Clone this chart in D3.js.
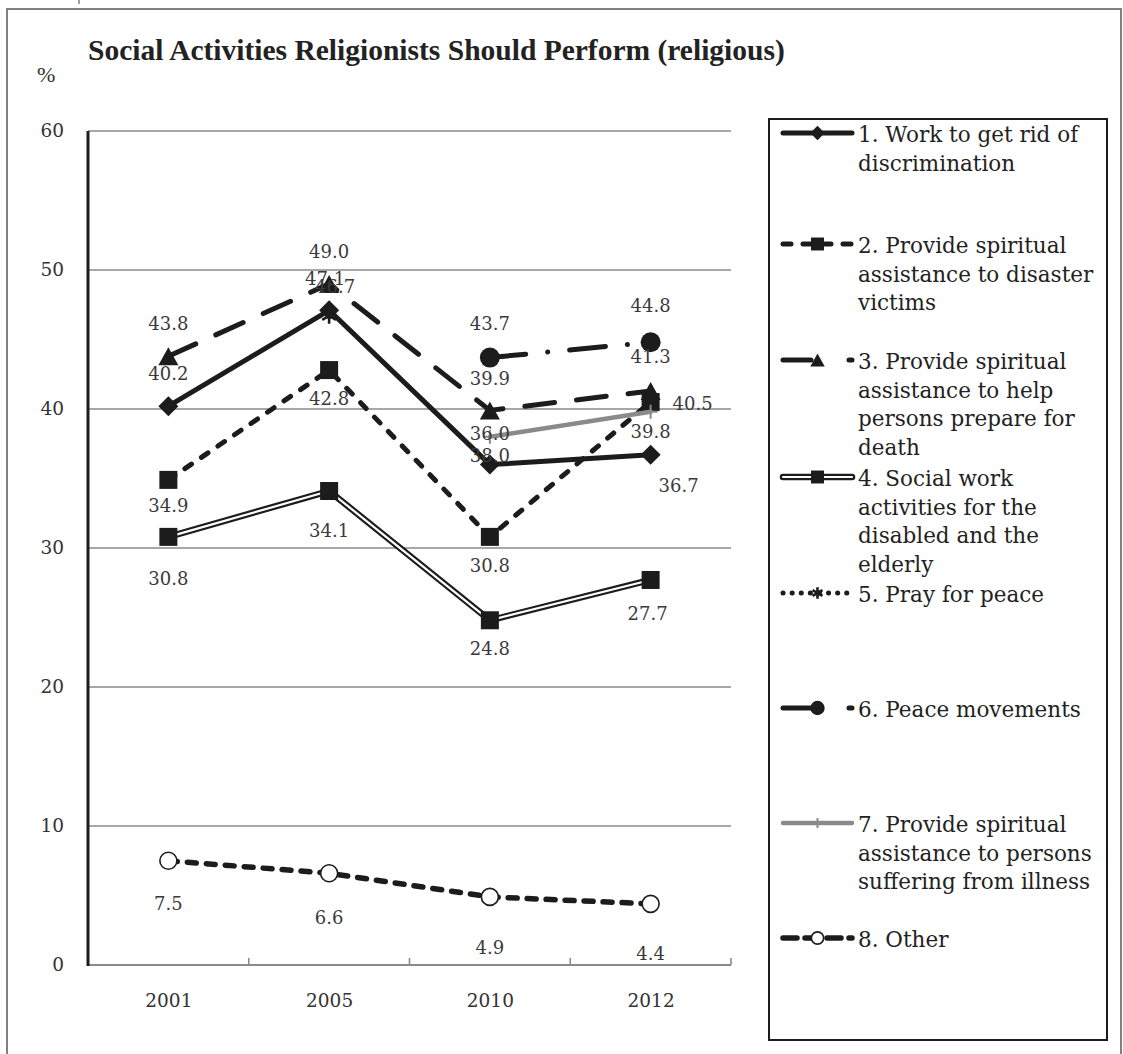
<!DOCTYPE html>
<html><head><meta charset="utf-8">
<script src="https://cdn.jsdelivr.net/npm/d3@7"></script>
<style>body{margin:0;background:#fff}</style>
</head><body>
<svg id="c" width="1123" height="1054"></svg>
<script>
// ---------------- data ----------------
const title = "Social Activities Religionists Should Perform (religious)";
const yUnit = "%";
const years = ["2001", "2005", "2010", "2012"];
const yTicks = [0, 10, 20, 30, 40, 50, 60];
const s1 = [40.2, 47.1, 36.0, 36.7];   // Work to get rid of discrimination
const s2 = [34.9, 42.8, 30.8, 40.5];   // disaster victims
const s3 = [43.8, 49.0, 39.9, 41.3];   // prepare for death
const s4 = [30.8, 34.1, 24.8, 27.7];   // disabled and elderly
const s5 = [null, 46.7, null, null];   // pray for peace
const s6 = [null, null, 43.7, 44.8];   // peace movements
const s7 = [null, null, 38.0, 39.8];   // suffering from illness
const s8 = [7.5, 6.6, 4.9, 4.4];       // other
const legendLabels = [
  ["1. Work to get rid of", "discrimination"],
  ["2. Provide spiritual", "assistance to disaster", "victims"],
  ["3. Provide spiritual", "assistance to help", "persons prepare for", "death"],
  ["4. Social work", "activities for the", "disabled and the", "elderly"],
  ["5. Pray for peace"],
  ["6. Peace movements"],
  ["7. Provide spiritual", "assistance to persons", "suffering from illness"],
  ["8. Other"]
];
const seriesValues = [s1, s2, s3, s4, s5, s6, s7, s8];

// ---------------- styles / layout ----------------
const INK = "#1c1c1c";
const GREY = "#8a8a8a";
const styles = [
  {stroke: INK, width: 5, dash: null, marker: "diamond", legendDash: null},
  {stroke: INK, width: 5, dash: "8,12", marker: "square", legendDash: "8,12"},
  {stroke: INK, width: 5, dash: "30,22", marker: "triangle", legendDash: "28,38"},
  {stroke: INK, width: 6.5, dash: null, marker: "square", double: true, legendDash: null},
  {stroke: INK, width: 5, dash: "0.1,9", marker: "asterisk", legendDash: "0.1,9"},
  {stroke: INK, width: 5, dash: "36,22,0.1,22", marker: "circle", legendDash: "28,38"},
  {stroke: GREY, width: 4.5, dash: null, marker: "plus", legendDash: null},
  {stroke: INK, width: 5.5, dash: "9,10", marker: "opencircle", legendDash: "14,8"}
];
// label offsets [dx, dy] relative to each point (layout only)
const labelOffsets = [
  [[0, -26], [-4, -25], [0, -25], [28, 37]],
  [[0, 32], [0, 35], [0, 35], [42, 8]],
  [[0, -26], [0, -26], [0, -25], [0, -28]],
  [[0, 48], [0, 46], [0, 35], [-3, 40]],
  [null, [6, -23], null, null],
  [null, null, [0, -28], [0, -30]],
  [null, null, [0, 25], [0, 26]],
  [[0, 49], [0, 51], [0, 57], [0, 56]]
];
const legendBaselines = [142, 253, 369, 486, 602, 717, 832, 947];

const svg = d3.select("#c");
const plot = {left: 88, right: 731, top: 131, bottom: 965};
const x = d3.scalePoint().domain(years).range([plot.left, plot.right]).padding(0.5);
const xb = d3.scaleBand().domain(years).range([plot.left, plot.right]);
const y = d3.scaleLinear().domain([0, 60]).range([plot.bottom, plot.top]);
const SERIF = "'DejaVu Serif', serif";

// outer frame
svg.append("path").attr("d", "M7,1054 V9 H1121 V1054")
  .attr("fill", "none").attr("stroke", "#808080").attr("stroke-width", 2);
svg.append("line").attr("x1", 79).attr("x2", 79).attr("y1", 0).attr("y2", 4)
  .attr("stroke", "#808080").attr("stroke-width", 1.5);

// title
svg.append("text").attr("x", 88).attr("y", 60).text(title)
  .attr("font-family", "'Liberation Serif', 'Times New Roman', serif")
  .attr("font-weight", "bold").attr("font-size", 29.5).attr("fill", "#222");
svg.append("text").attr("x", 37).attr("y", 82).text(yUnit)
  .attr("font-family", "'Liberation Serif', serif").attr("font-size", 22).attr("fill", "#333");

// gridlines
svg.append("g").selectAll("line").data(yTicks.filter(t => t > 0)).join("line")
  .attr("x1", plot.left).attr("x2", plot.right)
  .attr("y1", d => y(d)).attr("y2", d => y(d))
  .attr("stroke", GREY).attr("stroke-width", 1.6);

// y axis labels
const ya = svg.append("g").attr("transform", `translate(${plot.left},0)`)
  .call(d3.axisLeft(y).tickValues(yTicks).tickSize(0).tickPadding(24).tickFormat(d3.format("d")));
ya.select(".domain").remove();
ya.selectAll("text").attr("font-family", SERIF).attr("font-size", 18.5).attr("fill", "#333");

// x axis line and ticks
svg.append("line").attr("x1", plot.left).attr("x2", plot.right)
  .attr("y1", plot.bottom).attr("y2", plot.bottom)
  .attr("stroke", GREY).attr("stroke-width", 2);
const bounds = years.map(d => xb(d)).concat([xb(years[years.length - 1]) + xb.bandwidth()]);
svg.append("g").selectAll("line").data(bounds).join("line")
  .attr("x1", d => d).attr("x2", d => d).attr("y1", plot.bottom).attr("y2", plot.bottom - 7)
  .attr("stroke", GREY).attr("stroke-width", 1.6);
const xa = svg.append("g").attr("transform", `translate(0,${plot.bottom})`)
  .call(d3.axisBottom(x).tickSize(0).tickPadding(29));
xa.select(".domain").remove();
xa.selectAll("text").attr("font-family", SERIF).attr("font-size", 18.5).attr("fill", "#333");

// y axis line
svg.append("line").attr("x1", plot.left).attr("x2", plot.left)
  .attr("y1", plot.top).attr("y2", plot.bottom + 1)
  .attr("stroke", INK).attr("stroke-width", 3);

// marker drawing
function drawMarker(g, type, cx, cy, k) {
  if (type === "diamond") {
    const h = 10 * k;
    g.append("path").attr("d", `M${cx},${cy - h}L${cx + h},${cy}L${cx},${cy + h}L${cx - h},${cy}Z`).attr("fill", INK);
  } else if (type === "square") {
    const s = 18 * k;
    g.append("rect").attr("x", cx - s / 2).attr("y", cy - s / 2).attr("width", s).attr("height", s).attr("fill", INK);
  } else if (type === "triangle") {
    const w = 10 * k, h = 9 * k;
    g.append("path").attr("d", `M${cx},${cy - h}L${cx + w},${cy + h}L${cx - w},${cy + h}Z`).attr("fill", INK);
  } else if (type === "circle") {
    g.append("circle").attr("cx", cx).attr("cy", cy).attr("r", 10 * k).attr("fill", INK);
  } else if (type === "opencircle") {
    g.append("circle").attr("cx", cx).attr("cy", cy).attr("r", 8.5 * k)
      .attr("fill", "#fff").attr("stroke", INK).attr("stroke-width", 1.6);
  } else if (type === "asterisk") {
    const r = 8 * k;
    const a = r * Math.cos(Math.PI / 6), b = r * Math.sin(Math.PI / 6);
    const d = `M${cx},${cy - r}L${cx},${cy + r}M${cx - a},${cy - b}L${cx + a},${cy + b}M${cx - a},${cy + b}L${cx + a},${cy - b}`;
    g.append("path").attr("d", d).attr("stroke", INK).attr("stroke-width", 2.6).attr("fill", "none");
  } else if (type === "plus") {
    const r = 7 * k;
    g.append("path").attr("d", `M${cx},${cy - r}L${cx},${cy + r}M${cx - r},${cy}L${cx + r},${cy}`)
      .attr("stroke", GREY).attr("stroke-width", 2).attr("fill", "none");
  }
}

// series
const line = d3.line().defined(d => d.v != null).x(d => x(d.year)).y(d => y(d.v));
const seriesG = svg.append("g");
seriesValues.forEach((vals, i) => {
  const st = styles[i];
  const pts = years.map((yr, j) => ({year: yr, v: vals[j]}));
  const g = seriesG.append("g");
  const p = g.append("path").datum(pts).attr("d", line).attr("fill", "none")
    .attr("stroke", st.stroke).attr("stroke-width", st.width)
    .attr("stroke-linecap", "round").attr("stroke-linejoin", "round");
  if (st.dash) p.attr("stroke-dasharray", st.dash);
  if (st.double) {
    g.append("path").datum(pts).attr("d", line).attr("fill", "none")
      .attr("stroke", "#fff").attr("stroke-width", 2.2).attr("stroke-linejoin", "round");
  }
  pts.filter(d => d.v != null).forEach(d => drawMarker(g, st.marker, x(d.year), y(d.v), 1));
});

// data labels
const labelG = svg.append("g");
seriesValues.forEach((vals, i) => {
  vals.forEach((v, j) => {
    if (v == null) return;
    const off = labelOffsets[i][j] || [0, -26];
    labelG.append("text").attr("x", x(years[j]) + off[0]).attr("y", y(v) + off[1])
      .attr("text-anchor", "middle").attr("font-family", SERIF).attr("font-size", 18)
      .attr("fill", "#3a3a3a").text(d3.format(".1f")(v));
  });
});

// legend
const lg = svg.append("g");
lg.append("rect").attr("x", 769).attr("y", 119).attr("width", 338).attr("height", 921)
  .attr("fill", "#fff").attr("stroke", INK).attr("stroke-width", 2);
legendLabels.forEach((lines, i) => {
  const st = styles[i];
  const base = legendBaselines[i];
  const ly = base - 9;
  const g = lg.append("g");
  const l = g.append("line").attr("x1", 783).attr("x2", 852).attr("y1", ly).attr("y2", ly)
    .attr("stroke", st.stroke).attr("stroke-width", st.width).attr("stroke-linecap", "round");
  if (st.legendDash) l.attr("stroke-dasharray", st.legendDash);
  if (st.double) {
    g.append("line").attr("x1", 783).attr("x2", 852).attr("y1", ly).attr("y2", ly)
      .attr("stroke", "#fff").attr("stroke-width", 2.2).attr("stroke-linecap", "round");
  }
  drawMarker(g, st.marker, 817.5, ly, 0.72);
  const t = g.append("text").attr("x", 858).attr("y", base)
    .attr("font-family", SERIF).attr("font-size", 21.5).attr("fill", "#222");
  lines.forEach((s, k) => t.append("tspan").attr("x", 858).attr("dy", k === 0 ? 0 : 28.5).text(s));
});
</script>
</body></html>
